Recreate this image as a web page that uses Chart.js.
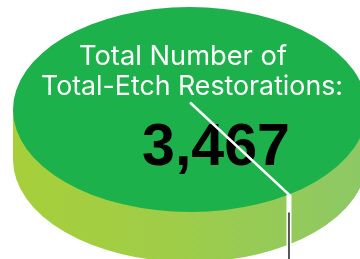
<!DOCTYPE html>
<html>
<head>
<meta charset="utf-8">
<script src="https://cdn.jsdelivr.net/npm/chart.js@4/dist/chart.umd.min.js"></script>
<style>
  html, body { margin: 0; padding: 0; background: #ffffff; }
  #c { display: block; }
</style>
</head>
<body>
<canvas id="c" width="360" height="259"></canvas>
<script>
// ---- data ----
const categories = ["Total-Etch Restorations"];
const values = [3467];
const titleLines = ["Total Number of", "Total-Etch Restorations:"];
const valueLabels = values.map(v => v.toLocaleString('en-US'));

// ---- styling ----
const topColor = '#1db14b';
const wallLeft = '#a7cf3a';
const wallRight = '#8cc866';
const tilt = 0.579;       // vertical squash of the disc
const wallHeight = 50;    // thickness of the disc

const discPlugin = {
  id: 'disc',
  beforeDatasetsDraw(chart) {
    const ctx = chart.ctx;
    const arc = chart.getDatasetMeta(0).data[0];
    const x = arc.x, y = arc.y, r = arc.outerRadius;
    const ry = r * tilt;
    // side wall
    ctx.save();
    const g = ctx.createLinearGradient(x - r, 0, x + r, 0);
    g.addColorStop(0, wallLeft);
    g.addColorStop(0.45, '#9fcd48');
    g.addColorStop(1, wallRight);
    ctx.fillStyle = g;
    ctx.beginPath();
    ctx.moveTo(x - r, y);
    ctx.lineTo(x - r, y + wallHeight);
    ctx.ellipse(x, y + wallHeight, r, ry, 0, Math.PI, 0, true);
    ctx.lineTo(x + r, y);
    ctx.closePath();
    ctx.fill();
    ctx.restore();
    // squash the pie into an ellipse
    ctx.save();
    ctx.translate(x, y);
    ctx.scale(1, tilt);
    ctx.translate(-x, -y);
  },
  afterDatasetsDraw(chart) {
    const ctx = chart.ctx;
    ctx.restore();
    const arc = chart.getDatasetMeta(0).data[0];
    const x = arc.x, y = arc.y, r = arc.outerRadius;
    const ry = r * tilt;

    // title text (white)
    ctx.save();
    ctx.fillStyle = '#ffffff';
    ctx.textBaseline = 'alphabetic';
    ctx.textAlign = 'center';
    const tw = [208, 302];
    const tc = [183, 192];
    const tb = [65, 95];
    titleLines.forEach((t, i) => {
      ctx.font = '400 100px Inter';
      const w = ctx.measureText(t).width;
      const fs = 100 * tw[i] / w;
      ctx.font = '400 ' + fs.toFixed(2) + 'px Inter';
      ctx.fillText(t, tc[i], tb[i]);
    });
    // big value (black bold)
    ctx.fillStyle = '#000000';
    ctx.font = 'bold 100px "Liberation Sans"';
    const vw = ctx.measureText(valueLabels[0]).width;
    const vfs = 100 * 148 / vw;
    ctx.font = 'bold ' + vfs.toFixed(2) + 'px "Liberation Sans"';
    ctx.fillText(valueLabels[0], 216, 165);
    ctx.restore();

    // leader line along slice start angle
    const a = arc.startAngle;
    const ex = x + r * Math.cos(a);
    const ey = y + ry * Math.sin(a);
    ctx.save();
    ctx.strokeStyle = '#ffffff';
    ctx.lineCap = 'butt';
    ctx.lineJoin = 'miter';
    ctx.lineWidth = 2.5;
    ctx.beginPath();
    ctx.moveTo(x, y - 7);
    ctx.lineTo(ex, ey);
    ctx.lineTo(ex, ey + 2);
    ctx.stroke();
    ctx.lineWidth = 5;
    ctx.beginPath();
    ctx.moveTo(ex, ey);
    ctx.lineTo(ex, ey + wallHeight + 4);
    ctx.stroke();
    ctx.strokeStyle = '#222222';
    ctx.lineWidth = 1.5;
    ctx.beginPath();
    ctx.moveTo(ex, ey + 18);
    ctx.lineTo(ex, chart.height);
    ctx.stroke();
    ctx.restore();
  }
};

new Chart(document.getElementById('c'), {
  type: 'pie',
  data: {
    labels: categories,
    datasets: [{
      data: values,
      backgroundColor: [topColor],
      borderWidth: 0,
      clip: false
    }]
  },
  options: {
    responsive: false,
    devicePixelRatio: 1,
    animation: false,
    radius: 177,
    rotation: 146,
    layout: { padding: { left: 20, right: 0, top: 0, bottom: 40 } },
    plugins: {
      legend: { display: false },
      tooltip: { enabled: false },
      title: { display: false }
    }
  },
  plugins: [discPlugin]
});
</script>
</body>
</html>
